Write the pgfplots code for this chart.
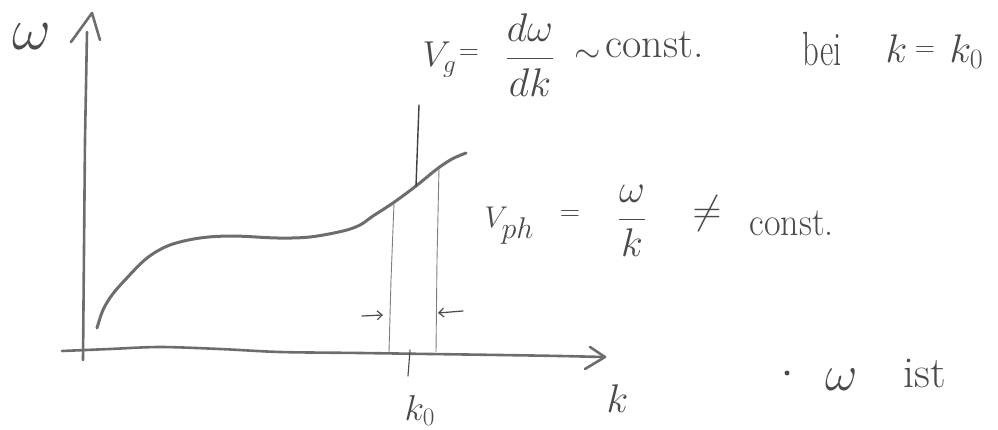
\RequirePackage{fix-cm}
\documentclass[border=0pt]{standalone}
\usepackage{amsmath}
\usepackage{graphicx}
\usepackage{pgfplots}
\pgfplotsset{compat=1.18}
\usetikzlibrary{arrows.meta}

\definecolor{ink}{HTML}{4A4A4A}
\definecolor{pencil}{HTML}{6C6E6E}
\definecolor{fine}{HTML}{7E7E7E}
\definecolor{tangent}{HTML}{3E3E3E}

\newcommand{\fs}[1]{\fontsize{#1}{#1}\selectfont}

\begin{document}
\begin{tikzpicture}
\begin{axis}[
  scale only axis, width=998pt, height=430pt,
  xmin=0, xmax=998, ymin=0, ymax=430, y dir=reverse,
  hide axis, clip=false,
  every axis plot/.append style={line cap=round, line join=round},
]
% omega axis with its open arrow head
\addplot[pencil, line width=2.6pt] coordinates {(83,360) (84,250) (85,140) (87,32)};
\addplot[pencil, line width=2.6pt] coordinates {(71,42) (92,13) (100,40)};
% k axis with its open arrow head
\addplot[pencil, line width=2.6pt, smooth] coordinates {(62,351) (110,349) (160,347) (220,349) (280,352) (360,353) (430,354) (500,355) (560,356) (603,357)};
\addplot[pencil, line width=2.6pt] coordinates {(590,347) (605,357) (585,369)};

% dispersion relation omega(k)
\addplot[pencil, line width=3pt, smooth, tension=0.55] coordinates {
  (97,328) (103,310) (112,295) (125,280) (147,258) (170,245) (200,238)
  (233,236) (277,238) (310,237) (343,231) (360,225) (373,216) (393,203)
  (416,186) (437,169) (452,159) (466,153)};

% tangent at k0
\addplot[tangent, line width=1.4pt] coordinates {(419,105) (416,186)};
% thin guide lines bounding the wave packet
\addplot[fine, line width=0.9pt] coordinates {(394,203) (391,280) (389,352)};
\addplot[fine, line width=0.9pt] coordinates {(439,168) (437,260) (436,352)};
% tick at k0
\addplot[ink, line width=1.1pt] coordinates {(410,350) (408,376)};
% small arrows pointing at the packet
\addplot[ink, line width=1.2pt, -{Straight Barb[length=5pt,width=9pt]}] coordinates {(362,316) (383,315)};
\addplot[ink, line width=1.2pt, -{Straight Barb[length=5pt,width=9pt]}] coordinates {(463,311) (438,313)};
% bullet of the note
\addplot[ink, only marks, mark=*, mark size=2.2pt] coordinates {(787,373)};

% axis labels
\node[ink, anchor=base west, font=\fs{60}] at (9,50) {$\omega$};
\node[ink, anchor=base west, font=\fs{40}] at (603,412) {$k$};
\node[ink, anchor=base west, font=\fs{36}] at (401,420) {$k_0$};

% group velocity
\node[ink, anchor=base west, font=\fs{36}] at (419,67) {$V_g$};
\node[ink, font=\fs{28}] at (469,55) {$=$};
\node[ink, font=\fs{40}] at (530,55) {$\dfrac{d\omega}{dk}$};
\node[ink, font=\fs{34}] at (588,56) {$\sim$};
\node[ink, anchor=base west, font=\fs{42}] at (602,58) {const.};
\node[ink, anchor=base west, font=\fs{48}] at (799,66) {\scalebox{0.68}[1]{bei}};
\node[ink, anchor=base west, font=\fs{40}] at (882,63) {$k$};
\node[ink, font=\fs{28}] at (925,52) {$=$};
\node[ink, anchor=base west, font=\fs{40}] at (946,63) {$k_0$};

% phase velocity
\node[ink, anchor=base west, font=\fs{30}] at (481,228) {$V_{\textstyle ph}$};
\node[ink, font=\fs{28}] at (570,216) {$=$};
\node[ink, font=\fs{40}] at (632,221) {$\dfrac{\omega}{k}$};
\node[ink, font=\fs{40}] at (707,214) {$\neq$};
\node[ink, anchor=base west, font=\fs{40}] at (746,236) {\scalebox{0.9}[1]{const.}};

% note below
\node[ink, anchor=base west, font=\fs{50}] at (822,390) {$\omega$};
\node[ink, anchor=base west, font=\fs{44}] at (900,387) {ist};
\end{axis}
\pgfresetboundingbox
\useasboundingbox (current axis.south west) rectangle (current axis.north east);
\end{tikzpicture}
\end{document}
